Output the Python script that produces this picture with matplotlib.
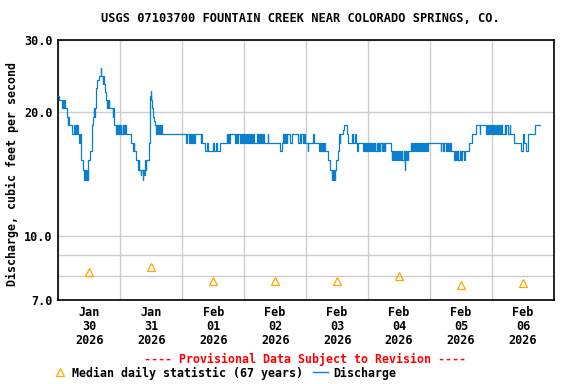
import matplotlib
matplotlib.use("Agg")
import matplotlib.pyplot as plt
from matplotlib.lines import Line2D
from matplotlib.ticker import FixedLocator, NullFormatter

plt.rcParams['font.family'] = ['DejaVu Sans Mono']
plt.rcParams['font.weight'] = 'bold'

title = "USGS 07103700 FOUNTAIN CREEK NEAR COLORADO SPRINGS, CO."
months = ['Jan', 'Jan', 'Feb', 'Feb', 'Feb', 'Feb', 'Feb', 'Feb']
days = ['30', '31', '01', '02', '03', '04', '05', '06']
years = ['2026'] * 8
median_cfs = [8.2, 8.4, 7.8, 7.8, 7.8, 8.0, 7.6, 7.7]

# discharge, change points per day: (hour of day, cfs)
jan30 = [(0.0, 21.9), (0.4, 21.4), (1.4, 20.5), (1.7, 21.4), (2.0, 20.5), (2.3, 21.4),
         (2.6, 20.5), (3.3, 19.5), (3.6, 18.6), (3.9, 19.5), (4.2, 18.6), (5.2, 17.7),
         (6.2, 18.6), (6.5, 17.7), (6.8, 18.6), (7.1, 17.7), (7.4, 18.6), (7.7, 17.7),
         (8.0, 16.9), (8.3, 17.7), (8.6, 16.9), (8.9, 15.3), (9.7, 14.5), (9.9, 13.7),
         (10.2, 14.5), (10.4, 13.7), (10.7, 14.5), (10.9, 13.7), (11.2, 14.5), (11.4, 13.7),
         (11.6, 15.3), (12.4, 16.1), (12.9, 18.6), (13.3, 19.5), (13.7, 20.5), (14.0, 19.5),
         (14.3, 20.5), (14.6, 22.9), (15.1, 24.0), (15.6, 24.5), (16.4, 25.6), (16.6, 24.5),
         (17.2, 23.4), (17.5, 24.5), (17.7, 23.4), (17.9, 22.4), (18.4, 21.4), (18.7, 20.5),
         (19.0, 21.4), (19.3, 20.5), (19.6, 21.4), (19.8, 20.5), (21.0, 19.5), (21.3, 20.5),
         (21.5, 19.5), (21.7, 18.6), (22.3, 17.7), (22.6, 18.6), (22.9, 17.7), (23.2, 18.6),
         (23.4, 17.7), (23.7, 18.6)]
jan31 = [(0.0, 17.7), (0.2, 18.6), (0.4, 17.7), (0.9, 18.6), (1.1, 17.7), (1.5, 18.6),
         (1.7, 17.7), (1.9, 18.6), (2.1, 17.7), (4.3, 16.9), (4.9, 16.1), (5.2, 16.9),
         (5.5, 16.1), (6.2, 15.3), (7.0, 14.5), (7.2, 15.3), (7.4, 14.5), (8.0, 14.1),
         (8.2, 14.5), (8.8, 13.7), (9.0, 14.5), (9.2, 14.1), (9.4, 14.5), (9.6, 15.3),
         (9.8, 14.5), (10.0, 15.3), (11.0, 16.9), (11.35, 18.6), (11.6, 21.9), (11.75, 21.4),
         (11.85, 22.5), (12.0, 21.4), (12.25, 20.5), (12.5, 19.5), (12.9, 19.1), (13.3, 18.6),
         (13.9, 17.7), (14.2, 18.6), (14.5, 17.7), (14.8, 18.6), (15.1, 17.7), (15.4, 18.6),
         (15.7, 17.7), (15.9, 18.6), (16.1, 17.7)]
feb01 = [(0.0, 17.7), (1.4, 16.9), (1.9, 17.7), (2.7, 16.9), (3.0, 17.7), (3.3, 16.9),
         (3.6, 17.7), (3.9, 16.9), (4.2, 17.7), (4.5, 16.9), (4.9, 17.7), (7.1, 16.9),
         (7.3, 17.7), (7.5, 16.9), (8.8, 16.1), (9.7, 16.9), (9.9, 16.1), (12.0, 16.9),
         (12.3, 16.1), (13.0, 16.9), (13.3, 16.1), (14.6, 16.9), (17.2, 17.7), (17.5, 16.9),
         (17.8, 17.7), (18.1, 16.9), (18.5, 17.7), (20.6, 16.9), (20.9, 17.7), (21.2, 16.9),
         (21.5, 17.7), (22.3, 16.9), (22.6, 17.7), (22.9, 16.9), (23.2, 17.7), (23.5, 16.9),
         (23.8, 17.7)]
feb02 = [(0.0, 16.9), (0.3, 17.7), (0.6, 16.9), (0.9, 17.7), (1.2, 16.9), (1.5, 17.7),
         (1.8, 16.9), (2.3, 17.7), (2.5, 16.9), (2.9, 17.7), (3.1, 16.9), (3.4, 17.7),
         (3.7, 16.9), (4.9, 17.7), (5.2, 16.9), (5.5, 17.7), (5.8, 16.9), (6.1, 17.7),
         (6.4, 16.9), (6.7, 17.7), (7.0, 16.9), (7.3, 17.7), (7.6, 16.9), (9.2, 17.7),
         (9.4, 16.9), (13.7, 16.1), (14.6, 16.9), (15.0, 17.7), (15.3, 16.9), (15.6, 17.7),
         (15.9, 16.9), (16.2, 17.7), (16.5, 16.9), (16.6, 17.7), (17.8, 16.9), (18.5, 17.7),
         (21.0, 16.9), (21.5, 17.7), (21.8, 16.9), (22.1, 17.7), (22.8, 16.9), (23.3, 17.7),
         (23.6, 16.9)]
feb03 = [(0.0, 16.9), (0.6, 16.1), (0.9, 16.9), (2.7, 17.7), (3.0, 16.9), (4.9, 16.1),
         (5.2, 16.9), (5.5, 16.1), (5.8, 16.9), (6.1, 16.1), (6.4, 16.9), (6.7, 16.1),
         (7.0, 16.9), (7.3, 16.1), (8.4, 15.3), (9.2, 14.5), (9.9, 13.7), (10.2, 14.5),
         (10.5, 13.7), (10.8, 14.5), (11.1, 13.7), (11.2, 14.5), (11.6, 15.3), (12.4, 16.1),
         (12.6, 16.9), (12.9, 17.7), (13.1, 16.9), (13.3, 17.7), (14.3, 18.1), (14.8, 18.6),
         (15.9, 17.7), (16.1, 16.9), (17.6, 17.7), (18.1, 16.9), (18.9, 17.7), (19.4, 16.9),
         (19.7, 16.1), (19.9, 16.9), (22.1, 16.1), (22.4, 16.9), (22.7, 16.1), (23.0, 16.9),
         (23.3, 16.1), (23.6, 16.9), (23.9, 16.1)]
feb04 = [(0.0, 16.9), (0.3, 16.1), (0.6, 16.9), (0.9, 16.1), (1.2, 16.9), (1.5, 16.1),
         (1.8, 16.9), (2.1, 16.1), (2.4, 16.9), (2.7, 16.1), (3.3, 16.9), (3.6, 16.1),
         (3.9, 16.9), (4.2, 16.1), (4.5, 16.9), (5.2, 16.1), (5.5, 16.9), (5.8, 16.1),
         (6.1, 16.9), (6.4, 16.1), (6.7, 16.9), (8.8, 16.1), (9.1, 15.3), (9.4, 16.1),
         (9.7, 15.3), (10.0, 16.1), (10.3, 15.3), (10.6, 16.1), (10.9, 15.3), (11.2, 16.1),
         (11.5, 15.3), (11.8, 16.1), (12.1, 15.3), (12.4, 16.1), (12.7, 15.3), (13.0, 16.1),
         (13.3, 15.3), (13.8, 16.1), (14.3, 14.5), (14.4, 16.1), (14.7, 15.3), (15.0, 16.1),
         (15.3, 15.3), (15.6, 16.1), (16.5, 16.9), (16.8, 16.1), (17.1, 16.9), (17.4, 16.1),
         (17.7, 16.9), (18.0, 16.1), (18.3, 16.9), (18.6, 16.1), (18.9, 16.9), (19.2, 16.1),
         (19.5, 16.9), (19.8, 16.1), (20.1, 16.9), (20.4, 16.1), (20.7, 16.9), (21.0, 16.1),
         (21.3, 16.9), (21.6, 16.1), (21.9, 16.9), (22.2, 16.1), (22.5, 16.9), (22.8, 16.1),
         (23.1, 16.9)]
feb05 = [(0.0, 16.9), (4.1, 16.1), (4.3, 16.9), (5.0, 16.1), (5.2, 16.9), (6.2, 16.1),
         (6.5, 16.9), (6.8, 16.1), (7.1, 16.9), (7.4, 16.1), (7.7, 16.9), (8.0, 16.1),
         (9.2, 15.3), (9.5, 16.1), (9.8, 15.3), (10.1, 16.1), (10.4, 15.3), (10.7, 16.1),
         (11.0, 15.3), (11.4, 16.1), (12.0, 15.3), (12.4, 16.1), (13.0, 15.3), (13.6, 16.1),
         (15.2, 16.9), (16.3, 17.7), (17.8, 18.6), (19.2, 17.7), (19.4, 18.6), (21.7, 17.7),
         (21.9, 18.6), (22.5, 17.7), (22.8, 18.6), (23.1, 17.7), (23.4, 18.6), (23.7, 17.7)]
feb06 = [(0.0, 18.6), (0.3, 17.7), (0.6, 18.6), (0.9, 17.7), (1.2, 18.6), (1.5, 17.7),
         (1.8, 18.6), (2.1, 17.7), (2.4, 18.6), (2.7, 17.7), (3.0, 18.6), (3.3, 17.7),
         (3.6, 18.6), (3.9, 17.7), (4.9, 18.6), (5.1, 17.7), (5.5, 18.6), (6.1, 17.7),
         (6.8, 18.6), (7.0, 17.7), (8.4, 16.9), (11.1, 16.1), (11.8, 16.9), (12.0, 17.7),
         (12.2, 16.9), (13.3, 16.1), (13.9, 17.7), (16.5, 18.6), (18.5, 18.6)]

discharge_days = [jan30, jan31, feb01, feb02, feb03, feb04, feb05, feb06]

hours, cfs = [], []
for i, day in enumerate(discharge_days):
    for h, q in day:
        hours.append(24 * i + h)
        cfs.append(q)

fig = plt.figure(figsize=(5.76, 3.84), dpi=100)
ax = fig.add_axes([58.3 / 576, 84 / 384, 495.7 / 576, 260 / 384])

ax.plot(hours, cfs, drawstyle='steps-post', color='#0a7fd0', lw=0.9, zorder=3)
ax.plot([24 * i + 12 for i in range(8)], median_cfs, linestyle='none', marker='^',
        markersize=5.8, markerfacecolor='none', markeredgecolor='#ffa500', mew=0.9, zorder=4)

ax.set_yscale('log')
ax.set_ylim(7, 30)
ax.set_xlim(0, 192)

ax.yaxis.set_major_locator(FixedLocator([7, 10, 20, 30]))
ax.yaxis.set_minor_locator(FixedLocator([8, 9]))
ax.set_yticklabels(['7.0', '10.0', '20.0', '30.0'])
ax.yaxis.set_minor_formatter(NullFormatter())

ax.xaxis.set_major_locator(FixedLocator(list(range(0, 193, 24))))
ax.xaxis.set_major_formatter(NullFormatter())
ax.xaxis.set_minor_locator(FixedLocator([24 * i + 12 for i in range(8)]))
ax.set_xticklabels([f"{m}\n{d}\n{y}" for m, d, y in zip(months, days, years)], minor=True)

ax.tick_params(which='both', length=0, labelsize=8.5)
ax.tick_params(axis='x', which='minor', pad=4)
ax.tick_params(axis='y', pad=4)
for lbl in ax.get_xticklabels(minor=True):
    lbl.set_linespacing(1.1)

ax.grid(True, which='major', color='#cccccc', lw=1.0, zorder=0)
ax.grid(True, which='minor', axis='y', color='#cccccc', lw=1.0, zorder=0)
ax.set_axisbelow(True)
for s in ax.spines.values():
    s.set_linewidth(1.2)
    s.set_color('black')

fig.text(300 / 576, 1 - 18 / 384, title, ha='center', va='center', fontsize=8.65)
fig.text(12 / 576, 1 - 174 / 384, "Discharge, cubic feet per second", rotation=90,
         ha='center', va='center', fontsize=8.4)
fig.text(305.5 / 576, 1 - 359 / 384, "---- Provisional Data Subject to Revision ----",
         ha='center', va='center', fontsize=8.4, color='red')

handles = [Line2D([], [], linestyle='none', marker='^', markersize=5.8, markerfacecolor='none',
                  markeredgecolor='#ffa500', mew=0.9),
           Line2D([], [], color='#0a7fd0', lw=1.0)]
fig.legend(handles, ['Median daily statistic (67 years)', 'Discharge'], ncol=2,
           loc='center left', bbox_to_anchor=(52 / 576, 1 - 373 / 384), frameon=False,
           fontsize=8.4, handlelength=1.3, handletextpad=0.45, columnspacing=0.8,
           borderpad=0, borderaxespad=0)

fig.savefig('out.png', dpi=100)
